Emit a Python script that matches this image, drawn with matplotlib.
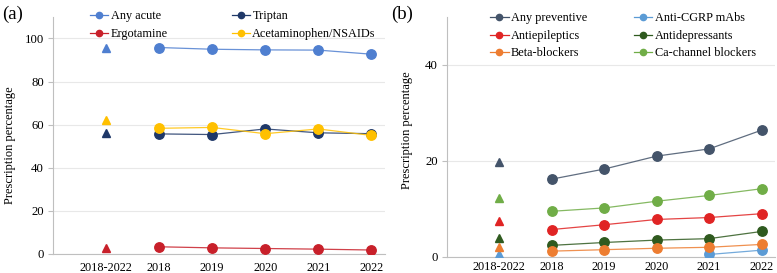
import numpy as np
import matplotlib.pyplot as plt

plt.rcParams['font.family'] = ['Liberation Serif', 'DejaVu Serif']

categories = ['2018-2022', '2018', '2019', '2020', '2021', '2022']

# panel (a): acute medication
acute_names = ['Any acute', 'Triptan', 'Ergotamine', 'Acetaminophen/NSAIDs']
acute_pooled = [95.5, 56.3, 2.8, 62.2]
acute_yearly = [
    [95.8, 95.0, 94.7, 94.6, 92.7],
    [55.7, 55.4, 58.0, 56.2, 55.8],
    [3.3, 2.8, 2.5, 2.2, 1.8],
    [58.3, 58.7, 55.8, 58.0, 55.0],
]
acute_colors = ['#4f7fd0', '#1f3868', '#c8202a', '#ffc000']

# panel (b): preventive medication
prev_names = ['Any preventive', 'Anti-CGRP mAbs', 'Antiepileptics',
              'Antidepressants', 'Beta-blockers', 'Ca-channel blockers']
prev_pooled = [19.8, 0.6, 7.4, 3.9, 2.1, 12.2]
prev_yearly = [
    [16.2, 18.3, 21.0, 22.5, 26.4],
    [None, None, None, 0.5, 1.4],
    [5.7, 6.7, 7.8, 8.2, 9.0],
    [2.4, 3.0, 3.5, 3.8, 5.3],
    [1.2, 1.5, 1.8, 2.0, 2.6],
    [9.5, 10.2, 11.6, 12.8, 14.2],
]
prev_colors = ['#44546a', '#5b9bd5', '#e02424', '#2f5a1f', '#ed7d31', '#70ad47']

fig = plt.figure(figsize=(7.77, 2.73), dpi=100)
ax1 = fig.add_axes([0.068, 0.070, 0.427, 0.868])
ax2 = fig.add_axes([0.575, 0.059, 0.422, 0.879])


def draw(ax, names, pooled, yearly, colors, ymax, ystep, leg_anchor, colsp, ylab_xy, xpad):
    x_year = np.arange(1, len(categories))
    handles = []
    for name, p, ys, c in zip(names, pooled, yearly, colors):
        # pooled 2018-2022 value as a triangle
        ax.plot(0, p, marker='^', color=c, ms=6, ls='none', zorder=3)
        xs = [x for x, y in zip(x_year, ys) if y is not None]
        vs = [y for y in ys if y is not None]
        ax.plot(xs, vs, color=c, lw=0.9, alpha=0.85, zorder=2)
        ax.plot(xs, vs, marker='o', color=c, ms=6.8, ls='none', zorder=3)
        h, = ax.plot([], [], color=c, lw=0.9, marker='o', ms=4.5)
        handles.append(h)
    ax.set_xlim(-1, len(categories) - 0.75)
    ax.set_ylim(0, ymax)
    ax.set_xticks(range(len(categories)))
    ax.set_xticklabels(categories)
    ax.set_yticks(np.arange(0, ymax, ystep))
    ax.yaxis.grid(True, color='#e8e8e8', lw=0.8)
    ax.set_axisbelow(True)
    for s in ['top', 'right']:
        ax.spines[s].set_visible(False)
    for s in ['left', 'bottom']:
        ax.spines[s].set_color('#bfbfbf')
    ax.tick_params(axis='x', length=0, labelsize=8.8, pad=xpad)
    ax.tick_params(axis='y', length=3.5, color='#bfbfbf', labelsize=9.2, pad=3)
    ax.set_ylabel('Prescription percentage', fontsize=9)
    ax.yaxis.set_label_coords(*ylab_xy)
    # legend fills column by column, reference reads row by row
    order = list(range(0, len(names), 2)) + list(range(1, len(names), 2))
    fig.legend([handles[i] for i in order], [names[i] for i in order], ncol=2,
               loc='upper left', bbox_to_anchor=leg_anchor,
               frameon=False, fontsize=8.8, handlelength=1.5, handletextpad=0.2,
               columnspacing=colsp, labelspacing=0.45, borderaxespad=0, borderpad=0)


draw(ax1, acute_names, acute_pooled, acute_yearly, acute_colors, 110, 20,
     (0.116, 0.962), 5.2, (-0.111, 0.46), 6)
draw(ax2, prev_names, prev_pooled, prev_yearly, prev_colors, 50, 20,
     (0.631, 0.955), 3.8, (-0.104, 0.53), 3)

fig.text(0.003, 0.93, '(a)', fontsize=13.5)
fig.text(0.503, 0.93, '(b)', fontsize=13.5)

fig.savefig('out.png', dpi=100)
